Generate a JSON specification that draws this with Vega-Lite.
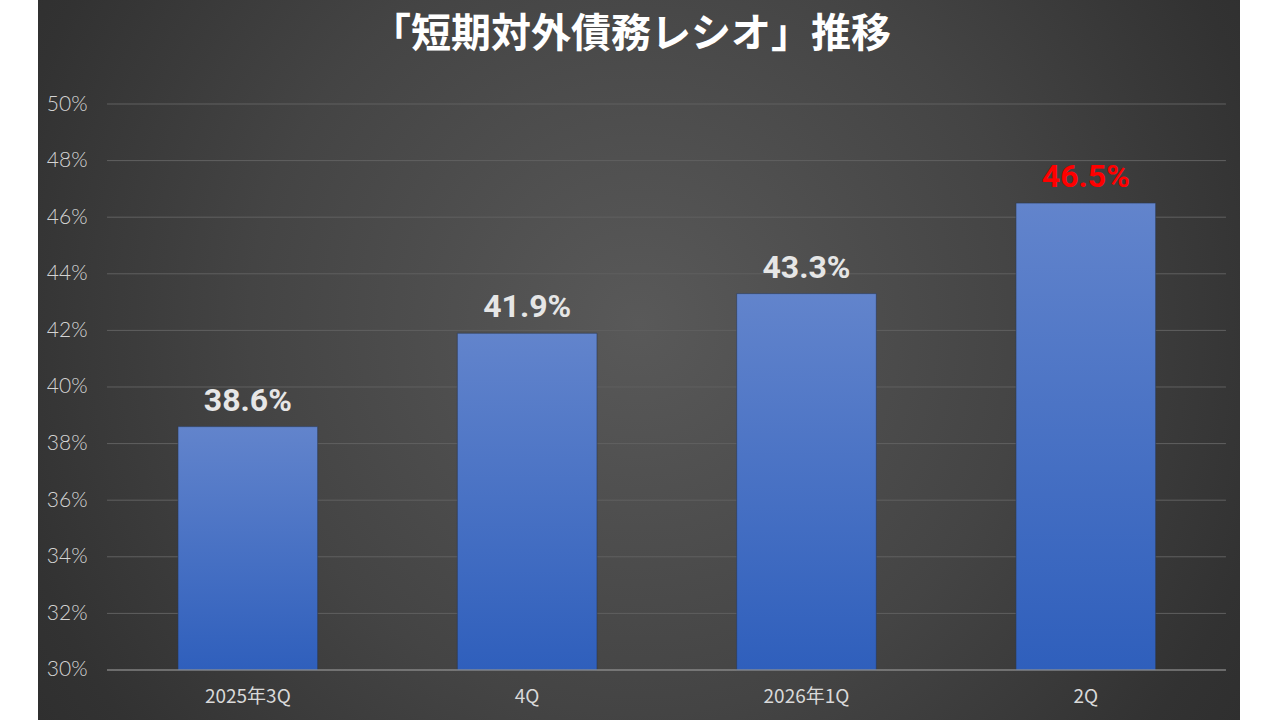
{
  "$schema": "https://vega.github.io/schema/vega-lite/v6.json",
  "width": 1280,
  "height": 720,
  "autosize": {"type": "fit", "contains": "padding"},
  "padding": {"left": 38, "right": 40, "top": 0, "bottom": 0},
  "background": "#ffffff",
  "config": {"view": {"stroke": null}},
  "title": {
    "text": "「短期対外債務レシオ」推移",
    "frame": "group",
    "anchor": "middle",
    "orient": "top",
    "offset": -87,
    "baseline": "alphabetic",
    "dx": -8,
    "font": "Noto Sans CJK JP",
    "fontSize": 40,
    "fontWeight": "bold",
    "color": "#ffffff",
    "zindex": 2
  },
  "datasets": {
    "bars": [
      {"period": "2025年3Q", "ratio": 0.386},
      {"period": "4Q", "ratio": 0.419},
      {"period": "2026年1Q", "ratio": 0.433},
      {"period": "2Q", "ratio": 0.465}
    ],
    "ticks": [
      {"tick": 0.30}, {"tick": 0.32}, {"tick": 0.34}, {"tick": 0.36}, {"tick": 0.38},
      {"tick": 0.40}, {"tick": 0.42}, {"tick": 0.44}, {"tick": 0.46}, {"tick": 0.48}, {"tick": 0.50}
    ]
  },
  "layer": [
    {
      "data": {"name": "bars"},
      "mark": {
        "type": "rect",
        "fill": {
          "gradient": "radial",
          "x1": 0.5, "y1": 0.47, "r1": 0,
          "x2": 0.5, "y2": 0.47, "r2": 0.72,
          "stops": [
            {"offset": 0, "color": "#595959"},
            {"offset": 0.45, "color": "#444444"},
            {"offset": 0.75, "color": "#323232"},
            {"offset": 1, "color": "#292929"}
          ]
        }
      },
      "encoding": {}
    },
    {
      "data": {"name": "ticks"},
      "transform": [{"filter": "datum.tick > 0.301"}],
      "mark": {"type": "rule", "color": "#606060", "strokeWidth": 1},
      "encoding": {
        "y": {"field": "tick", "type": "quantitative"},
        "x": {"datum": "2025年3Q", "type": "nominal", "bandPosition": -0.5083},
        "x2": {"datum": "2Q", "bandPosition": 1.5035}
      }
    },
    {
      "data": {"name": "bars"},
      "mark": {
        "type": "bar",
        "fill": {
          "gradient": "linear",
          "x1": 0, "y1": 0, "x2": 0, "y2": 1,
          "stops": [
            {"offset": 0, "color": "#6284cc"},
            {"offset": 1, "color": "#2f5fbc"}
          ]
        },
        "stroke": "#2b3950",
        "strokeWidth": 0.6
      },
      "encoding": {
        "x": {
          "field": "period",
          "type": "nominal",
          "sort": null,
          "scale": {
            "domain": ["2025年3Q", "4Q", "2026年1Q", "2Q"],
            "paddingInner": 0.5, "paddingOuter": 0.4016, "align": 0.624
          },
          "axis": {
            "title": null,
            "orient": "bottom",
            "offset": -50,
            "zindex": 2,
            "domain": false,
            "ticks": false,
            "labelAngle": 0,
            "labelAlign": "center",
            "labelPadding": 26,
            "labelFont": "Noto Sans CJK JP",
            "labelFontSize": 19,
            "labelColor": "#d9d9d9"
          }
        },
        "y": {
          "field": "ratio",
          "type": "quantitative",
          "scale": {"domain": [0.28233, 0.53675], "nice": false, "zero": false},
          "axis": {
            "title": null,
            "orient": "left",
            "offset": -69,
            "zindex": 2,
            "values": [0.30, 0.32, 0.34, 0.36, 0.38, 0.40, 0.42, 0.44, 0.46, 0.48, 0.50],
            "format": ".0%",
            "grid": false,
            "domain": false,
            "ticks": false,
            "labelPadding": 20,
            "labelFont": "Lato",
            "labelFontWeight": 300,
            "labelFontSize": 21,
            "labelColor": "#d4d4d4"
          }
        },
        "y2": {"datum": 0.30}
      }
    },
    {
      "data": {"name": "ticks"},
      "transform": [{"filter": "datum.tick < 0.301"}],
      "mark": {"type": "rule", "color": "#a6a6a6", "strokeWidth": 1.2},
      "encoding": {
        "y": {"field": "tick", "type": "quantitative"},
        "x": {"datum": "2025年3Q", "type": "nominal", "bandPosition": -0.5083},
        "x2": {"datum": "2Q", "bandPosition": 1.5035}
      }
    },
    {
      "data": {"name": "bars"},
      "mark": {
        "type": "text",
        "font": "Roboto",
        "fontSize": 32,
        "fontWeight": "bold",
        "baseline": "alphabetic",
        "align": "center",
        "dy": -16
      },
      "encoding": {
        "x": {"field": "period", "type": "nominal", "sort": null},
        "y": {"field": "ratio", "type": "quantitative"},
        "text": {"field": "ratio", "type": "quantitative", "format": ".1%"},
        "color": {
          "condition": {"test": "datum.period === '2Q'", "value": "#ff0000"},
          "value": "#e6e6e6"
        }
      }
    }
  ]
}
